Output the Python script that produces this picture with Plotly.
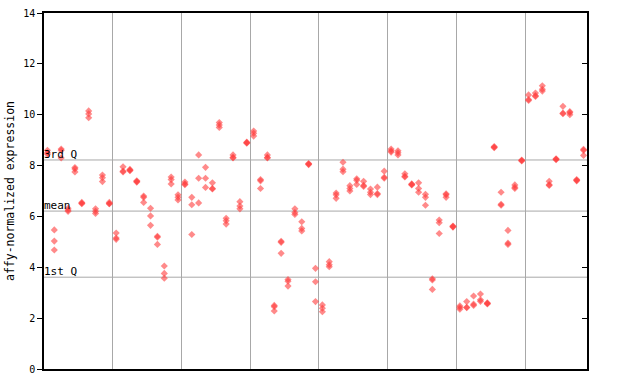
import plotly.graph_objects as go

# replicate values per sample (79 samples)
rep_a = [8.60, 5.47, 8.65, 6.32, 7.92, 6.55, 10.15, 6.30, 7.63, 6.55,
         5.35, 7.95, 7.85, 7.40, 6.80, 6.32, 5.22, 4.05, 7.55, 6.85,
         7.35, 6.75, 8.42, 7.93, 7.32, 9.69, 5.93, 8.42, 6.58, 8.92,
         9.36, 7.45, 8.42, 2.50, 5.02, 3.52, 6.30, 5.79, 8.08, 3.96,
         2.52, 4.22, 6.92, 8.13, 7.21, 7.48, 7.38, 7.08, 7.15, 7.78,
         8.65, 8.58, 7.68, 7.28, 7.32, 6.87, 3.55, 5.86, 6.89, 5.62,
         2.48, 2.65, 2.87, 2.95, 2.60, 8.75, 6.95, 5.45, 7.24, 8.22,
         10.78, 10.85, 11.14, 7.38, 8.27, 10.33, 10.12, 7.45, 8.64]
rep_b = [8.50, 5.03, 8.60, 6.25, 7.87, 6.50, 10.03, 6.20, 7.52, 6.50,
         5.15, 7.78, 7.82, 7.35, 6.75, 6.02, 5.18, 3.76, 7.45, 6.75,
         7.28, 6.46, 7.50, 7.50, 7.10, 9.60, 5.83, 8.32, 6.41, 8.88,
         9.27, 7.40, 8.32, 2.45, 4.98, 3.45, 6.15, 5.53, 8.04, 3.43,
         2.39, 4.10, 6.85, 7.86, 7.10, 7.42, 7.22, 6.95, 6.90, 7.54,
         8.58, 8.50, 7.58, 7.24, 7.10, 6.75, 3.50, 5.75, 6.85, 5.58,
         2.42, 2.43, 2.55, 2.72, 2.56, 8.70, 6.48, 4.95, 7.15, 8.18,
         10.60, 10.75, 11.00, 7.25, 8.23, 10.06, 10.08, 7.40, 8.60]
rep_c = [8.45, 4.68, 8.30, 6.20, 7.75, 6.52, 9.88, 6.12, 7.37, 6.50,
         5.10, 7.75, 7.80, 7.37, 6.55, 5.65, 4.90, 3.57, 7.28, 6.65,
         7.25, 5.29, 6.53, 7.14, 7.08, 9.50, 5.70, 8.30, 6.30, 8.90,
         9.16, 7.10, 8.30, 2.28, 4.55, 3.26, 6.08, 5.43, 8.06, 2.65,
         2.25, 4.02, 6.71, 7.76, 7.00, 7.26, 7.18, 6.86, 6.86, 7.50,
         8.53, 8.42, 7.55, 7.26, 6.95, 6.44, 3.13, 5.33, 6.75, 5.60,
         2.35, 2.41, 2.50, 2.66, 2.58, 8.72, 6.44, 4.90, 7.10, 8.20,
         10.56, 10.72, 10.93, 7.22, 8.25, 10.04, 10.00, 7.42, 8.40]

quartile_values = [8.22, 6.21, 3.61]
quartile_labels = ["3rd Q", "mean", "1st Q"]
y_ticks = [0, 2, 4, 6, 8, 10, 12, 14]

n = len(rep_a)
xs = []
ys = []
for reps in (rep_a, rep_b, rep_c):
    xs += list(range(n))
    ys += reps

fig = go.Figure()
fig.add_trace(go.Scatter(
    x=xs, y=ys, mode="markers",
    marker=dict(symbol="diamond", size=5.5, color="rgba(255,60,60,0.6)",
                line=dict(width=0)),
    showlegend=False, hoverinfo="skip"))
# invisible trace to activate yaxis2
fig.add_trace(go.Scatter(x=[0], y=[0], yaxis="y2", mode="markers",
                         marker=dict(opacity=0), showlegend=False, hoverinfo="skip"))

shapes = []
annotations = []
for v, lab in zip(quartile_values, quartile_labels):
    shapes.append(dict(type="line", xref="paper", yref="y", x0=0, x1=1, y0=v, y1=v,
                       line=dict(color="#a8a8a8", width=1), layer="below"))
    annotations.append(dict(text=lab, xref="paper", yref="y", x=0, y=v,
                            xanchor="left", yanchor="bottom", showarrow=False,
                            yshift=-3, xshift=-2,
                            font=dict(family="DejaVu Sans Mono", size=11, color="black")))
annotations.append(dict(text="affy-normalized expression", xref="paper", yref="paper",
                        x=(10 - 44) / 543, y=0.5, textangle=-90, showarrow=False,
                        xanchor="center", yanchor="middle",
                        font=dict(family="DejaVu Sans Mono", size=11.5, color="black")))

fig.update_layout(
    width=640, height=384,
    margin=dict(l=44, r=53, t=13, b=15, autoexpand=False),
    paper_bgcolor="white", plot_bgcolor="white",
    shapes=shapes, annotations=annotations,
    xaxis=dict(range=[-0.5, n - 0.5], showticklabels=False, ticks="",
               showgrid=True, gridcolor="#a8a8a8", gridwidth=1,
               tick0=9.5, dtick=10, zeroline=False, automargin=False,
               showline=True, linecolor="black", linewidth=1.5, mirror=True),
    yaxis=dict(range=[0, 14], tickvals=y_ticks, ticks="outside", ticklen=5,
               tickcolor="black", showgrid=False, zeroline=False, automargin=False,
               showline=True, linecolor="black", linewidth=1.5,
               tickfont=dict(family="DejaVu Sans Mono", size=10, color="black")),
    yaxis2=dict(range=[0, 14], tickvals=y_ticks, overlaying="y", side="right",
                ticks="inside", ticklen=5, tickcolor="black", showticklabels=False,
                showgrid=False, zeroline=False, showline=True, linecolor="black",
                linewidth=1.5, automargin=False),
)

fig.write_html("out.html")
